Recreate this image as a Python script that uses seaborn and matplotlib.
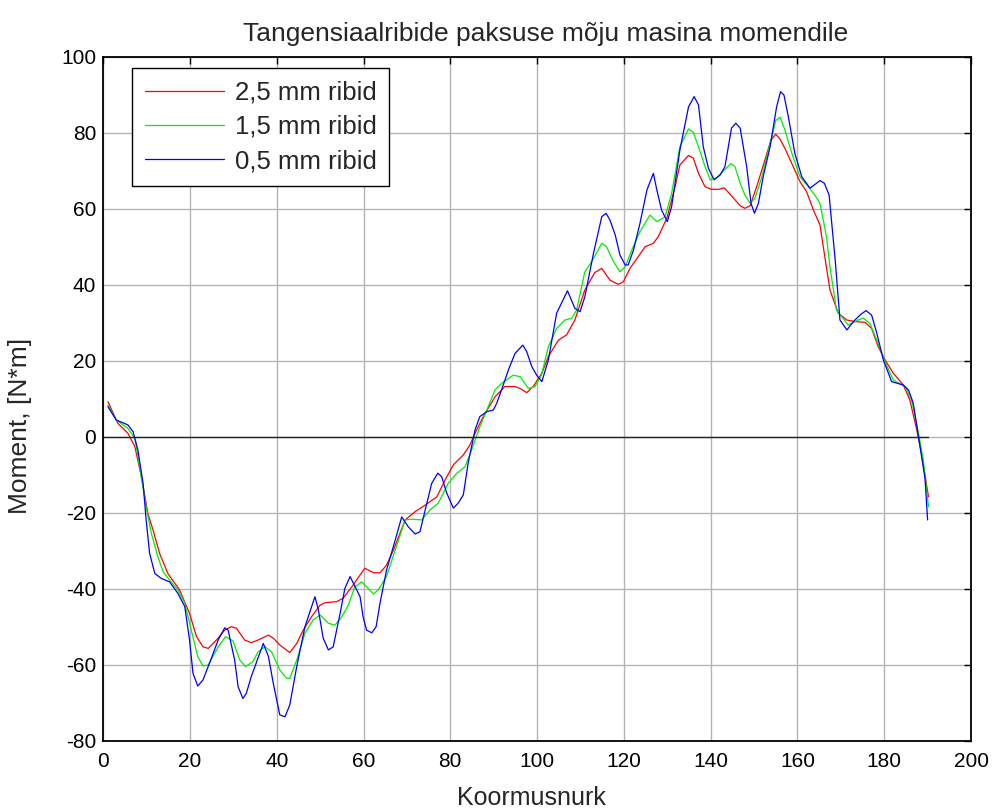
import matplotlib
matplotlib.use("Agg")
import matplotlib.pyplot as plt
import seaborn as sns
import pandas as pd

title = "Tangensiaalribide paksuse mõju masina momendile"
xlabel = "Koormusnurk"
ylabel = "Moment, [N*m]"
labels = ["2,5 mm ribid", "1,5 mm ribid", "0,5 mm ribid"]
colors = ["#ff0000", "#00ee00", "#0000ff"]

red_x = [1.1, 3.4, 5.7, 7.3, 8.8, 10.3, 11.5, 13.0, 14.9, 17.6, 19.9, 21.5, 23.0, 24.2, 26.1, 28.0, 29.5, 30.7,
         32.6, 34.1, 35.7, 38.1, 39.2, 40.7, 43.0, 44.6, 46.1, 48.0, 50.0, 51.1, 53.8, 55.3, 57.3, 59.2, 60.3,
         62.3, 63.8, 65.3, 66.9, 69.6, 71.9, 74.2, 76.9, 78.8, 80.7, 83.0, 84.5, 85.7, 87.6, 90.3, 92.6, 94.9,
         96.1, 97.6, 99.1, 101.1, 102.6, 104.9, 106.8, 108.7, 111.0, 113.3, 114.9, 116.8, 118.7, 119.9, 121.4,
         123.0, 124.9, 126.8, 127.9, 129.9, 131.8, 132.9, 134.9, 136.0, 137.2, 138.7, 140.2, 141.8, 143.1,
         144.8, 146.8, 147.9, 149.1, 150.6, 152.5, 153.9, 155.0, 156.0, 157.1, 158.7, 160.6, 162.1, 163.7,
         165.2, 166.3, 167.5, 169.4, 171.4, 173.3, 175.6, 177.1, 178.6, 180.2, 182.1, 184.4, 185.9, 187.5,
         188.6, 190.2]
red_y = [9.2, 3.5, 0.9, -2.6, -10.5, -20.2, -24.6, -30.7, -36.0, -40.3, -46.5, -52.6, -55.3, -55.7, -53.5, -50.9,
         -50.0, -50.4, -53.5, -54.2, -53.5, -52.2, -53.0, -54.8, -56.8, -54.4, -50.9, -47.4, -44.3, -43.7, -43.4,
         -42.5, -39.5, -36.4, -34.6, -35.8, -35.8, -33.8, -29.8, -21.9, -19.7, -18.0, -15.8, -11.4, -7.4, -4.8,
         -2.2, 0.9, 5.3, 10.5, 13.2, 13.2, 12.7, 11.6, 13.2, 16.7, 21.1, 25.4, 26.8, 30.7, 38.6, 43.2, 44.3, 41.2,
         40.1, 40.8, 44.3, 46.9, 50.0, 50.9, 52.6, 57.5, 65.8, 71.5, 74.0, 73.3, 69.3, 65.8, 65.1, 65.1, 65.5,
         63.4, 60.8, 60.1, 60.8, 65.8, 72.8, 78.1, 79.6, 78.3, 75.9, 71.9, 67.1, 64.5, 59.6, 55.7, 47.4, 38.6,
         32.5, 30.7, 30.3, 30.1, 28.5, 23.7, 20.2, 16.7, 13.6, 9.7, 1.8, -4.4, -15.8]

green_x = [1.1, 3.0, 5.7, 7.3, 8.4, 9.9, 11.1, 12.6, 13.8, 15.3, 17.2, 18.8, 20.3, 21.8, 23.0, 24.2, 26.5, 28.2,
           29.9, 31.5, 32.8, 34.5, 35.7, 37.3, 38.8, 40.7, 42.3, 43.0, 44.6, 46.5, 48.4, 50.0, 51.9, 53.4, 55.0,
           56.5, 58.0, 59.6, 60.7, 62.3, 63.4, 65.3, 67.3, 69.6, 71.1, 73.4, 75.3, 77.2, 79.5, 81.5, 83.4, 84.9,
           86.8, 88.4, 90.3, 91.8, 94.5, 96.1, 98.0, 99.5, 101.0, 102.6, 104.5, 106.4, 108.0, 109.1, 111.0,
           112.6, 114.9, 116.0, 117.6, 119.1, 120.3, 121.8, 123.7, 126.0, 127.6, 129.5, 131.0, 132.9, 134.9,
           136.0, 137.2, 138.7, 139.9, 141.4, 142.9, 144.7, 145.6, 146.8, 147.9, 149.1, 150.2, 151.8, 153.7,
           155.0, 156.0, 157.1, 158.7, 160.6, 162.5, 164.0, 165.2, 166.7, 167.5, 169.0, 171.7, 174.0, 175.2,
           176.7, 178.3, 180.2, 182.1, 184.8, 186.3, 187.9, 189.0, 190.2]
green_y = [8.3, 4.4, 2.2, -0.4, -7.9, -18.4, -25.4, -31.6, -35.5, -37.7, -40.3, -43.8, -50.9, -57.9, -60.3, -60.1,
           -55.3, -52.6, -53.7, -58.8, -60.5, -59.2, -56.6, -55.3, -56.6, -61.4, -63.6, -63.6, -58.8, -51.7, -48.2,
           -46.9, -49.1, -49.6, -47.4, -44.3, -39.5, -38.2, -39.5, -41.4, -40.3, -36.8, -29.8, -21.9, -21.7, -21.9,
           -19.3, -17.5, -12.3, -9.6, -7.9, -3.5, 2.6, 7.0, 12.3, 14.0, 16.2, 15.8, 12.7, 13.2, 16.2, 23.7, 28.5,
           30.7, 31.2, 33.3, 43.4, 46.1, 50.9, 50.0, 46.1, 43.4, 44.7, 49.1, 53.9, 58.3, 56.6, 57.9, 64.0, 76.3,
           81.0, 80.1, 76.3, 71.1, 67.6, 68.2, 69.9, 71.9, 71.1, 66.7, 63.6, 61.4, 62.7, 68.4, 77.2, 83.2, 84.1,
           80.8, 74.6, 68.4, 65.8, 63.6, 61.4, 52.6, 44.7, 33.3, 29.4, 30.7, 31.2, 29.8, 25.4, 19.7, 14.9, 13.2,
           9.7, 0.9, -6.1, -18.4]

blue_x = [1.1, 3.0, 5.7, 6.9, 8.0, 9.2, 9.9, 10.7, 11.9, 13.4, 15.3, 17.2, 18.8, 19.9, 20.7, 21.8, 23.0, 24.5,
          26.5, 28.0, 28.8, 30.3, 31.1, 32.2, 33.0, 34.1, 36.9, 38.1, 39.2, 40.7, 41.9, 43.0, 44.6, 46.5, 48.8,
          49.6, 50.7, 51.9, 53.0, 54.6, 55.7, 56.9, 59.2, 59.9, 60.7, 61.9, 62.9, 63.8, 65.3, 67.3, 68.8, 70.3,
          71.9, 73.0, 74.2, 75.7, 77.1, 78.0, 79.2, 80.7, 81.8, 83.0, 84.1, 85.7, 86.8, 88.4, 89.9, 90.7, 91.8,
          93.4, 94.9, 96.7, 97.6, 98.8, 99.9, 101.1, 102.6, 104.5, 107.0, 108.7, 109.9, 111.0, 113.0, 114.9,
          115.9, 116.8, 118.0, 119.1, 120.3, 121.0, 122.2, 123.7, 125.3, 126.8, 127.6, 128.7, 130.0, 131.0,
          132.9, 134.9, 136.2, 137.2, 138.3, 139.5, 140.8, 142.2, 143.3, 144.8, 145.8, 146.8, 148.3, 149.3,
          150.1, 151.0, 152.1, 153.7, 155.2, 156.1, 156.9, 157.9, 159.4, 161.0, 162.9, 165.2, 166.2, 167.3,
          168.7, 169.8, 171.4, 172.9, 174.4, 175.8, 177.1, 178.3, 179.8, 181.7, 184.4, 185.6, 186.7, 187.9,
          189.4, 190.0]
blue_y = [7.9, 4.4, 3.1, 1.3, -3.5, -12.3, -21.9, -30.7, -36.0, -37.3, -38.2, -41.2, -44.7, -53.5, -62.3, -65.6,
          -64.0, -59.6, -53.5, -50.3, -50.9, -58.8, -65.8, -68.9, -67.5, -63.2, -54.4, -57.9, -64.9, -73.2, -73.7,
          -70.6, -60.5, -50.0, -42.1, -45.6, -53.0, -56.1, -55.3, -46.5, -39.9, -36.8, -42.1, -47.4, -50.9, -51.6,
          -50.0, -43.8, -35.1, -27.2, -21.1, -23.7, -25.6, -25.0, -19.3, -12.3, -9.6, -10.5, -14.9, -18.8, -17.5,
          -15.3, -7.0, 1.8, 5.3, 6.6, 7.0, 8.8, 12.3, 17.6, 21.9, 24.1, 22.4, 18.4, 16.2, 14.5, 20.2, 32.5, 38.4,
          33.8, 32.9, 36.8, 48.3, 57.9, 58.8, 57.0, 53.1, 47.8, 45.2, 45.2, 49.1, 56.1, 64.9, 69.3, 64.9, 59.6,
          56.6, 60.5, 75.4, 86.8, 89.5, 87.3, 76.3, 70.6, 67.6, 68.9, 71.1, 81.2, 82.5, 81.2, 71.1, 61.4, 58.8,
          61.4, 68.4, 76.3, 86.8, 90.8, 89.9, 84.2, 74.6, 68.4, 65.4, 67.4, 66.7, 63.6, 46.5, 30.7, 28.1, 30.3,
          32.0, 33.2, 32.0, 27.2, 20.2, 14.5, 13.6, 12.3, 8.8, 0.0, -11.0, -21.9]

zero_x = [0, 190]
zero_y = [0, 0]

xticks = list(range(0, 201, 20))
yticks = list(range(-80, 101, 20))

sns.set_theme(style="white")
plt.rcParams["font.family"] = ["Liberation Sans", "DejaVu Sans"]
plt.rcParams["axes.unicode_minus"] = False

fig = plt.figure(figsize=(9.96, 8.09), dpi=100)
ax = fig.add_axes([0.1036, 0.0844, 0.8713, 0.8455])

series = [(red_x, red_y), (green_x, green_y), (blue_x, blue_y)]
for (xs, ys), lab, col in zip(series, labels, colors):
    df = pd.DataFrame({"x": xs, "y": ys})
    sns.lineplot(data=df, x="x", y="y", ax=ax, color=col, linewidth=0.9,
                 label=lab, sort=False, estimator=None)

dfz = pd.DataFrame({"x": zero_x, "y": zero_y})
sns.lineplot(data=dfz, x="x", y="y", ax=ax, color="#222222", linewidth=1.0,
             label="_nolegend_", sort=False, estimator=None)

ax.set_xlim(0, 200)
ax.set_ylim(-80, 100)
ax.set_xticks(xticks)
ax.set_yticks(yticks)
ax.grid(True, color="#b4b4b4", linewidth=1.0, linestyle="-")
ax.set_axisbelow(True)
for s in ax.spines.values():
    s.set_color("black")
    s.set_linewidth(1.3)
ax.tick_params(direction="in", top=True, right=True, length=5, width=1.0,
               labelsize=15, colors="black", pad=5)
ax.tick_params(axis="x", pad=8)
ax.set_title(title, fontsize=19, pad=11, x=0.51)
ax.set_xlabel(xlabel, fontsize=18)
ax.set_ylabel(ylabel, fontsize=19)
ax.xaxis.set_label_coords(0.493, -0.066)
ax.xaxis.label.set_va("top")
ax.yaxis.set_label_coords(-0.082, 0.46)

leg = ax.legend(loc="upper left", bbox_to_anchor=(0.033, 0.984), fontsize=18.5,
                frameon=True, fancybox=False, shadow=False, handlelength=3.1,
                borderpad=0.5, labelspacing=0.4, handletextpad=0.4, borderaxespad=0)
leg.get_frame().set_edgecolor("black")
leg.get_frame().set_linewidth(1.0)
leg.get_frame().set_alpha(1.0)

fig.savefig("out.png", dpi=100)
